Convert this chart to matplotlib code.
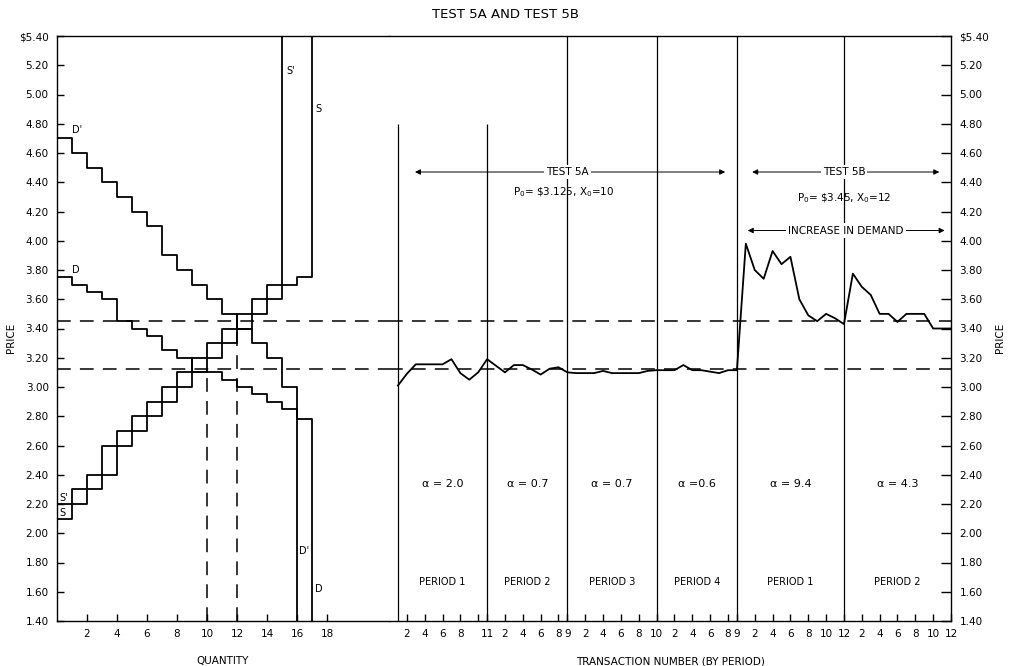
import numpy as np
import matplotlib
matplotlib.use('Agg')
import matplotlib.pyplot as plt

plt.rcParams['font.family'] = ['DejaVu Sans']

# ---- data ----
price_ticks = [1.40 + 0.2 * i for i in range(21)]
quantity_ticks = [2, 4, 6, 8, 10, 12, 14, 16, 18]

# step curves, one price per unit of quantity (q to q+1)
demand_d = [3.75, 3.70, 3.65, 3.60, 3.45, 3.40, 3.35, 3.25, 3.20, 3.10,
            3.10, 3.05, 3.00, 2.95, 2.90, 2.85, 2.78]
demand_d2 = [4.70, 4.60, 4.50, 4.40, 4.30, 4.20, 4.10, 3.90, 3.80, 3.70,
             3.60, 3.50, 3.40, 3.30, 3.20, 3.00]
supply_s = [2.10, 2.20, 2.30, 2.40, 2.60, 2.70, 2.80, 2.90, 3.00, 3.10,
            3.20, 3.30, 3.40, 3.60, 3.70, 3.70, 3.75]
supply_s2 = [2.20, 2.30, 2.40, 2.60, 2.70, 2.80, 2.90, 3.00, 3.10, 3.20,
             3.30, 3.40, 3.50, 3.50, 3.60]

p0_a, x0_a = 3.125, 10
p0_b, x0_b = 3.45, 12

period_sizes = [11, 9, 10, 9, 12, 12]
period_names = ['PERIOD 1', 'PERIOD 2', 'PERIOD 3', 'PERIOD 4', 'PERIOD 1', 'PERIOD 2']
alpha_labels = ['α = 2.0', 'α = 0.7', 'α = 0.7', 'α =0.6', 'α = 9.4', 'α = 4.3']
period_ticks = [[2, 4, 6, 8, 10, 11], [2, 4, 6, 8, 9], [2, 4, 6, 8, 10],
                [2, 4, 6, 8, 9], [2, 4, 6, 8, 10, 12], [2, 4, 6, 8, 10, 12]]
period_tick_labels = [['2', '4', '6', '8', '', '11'], ['2', '4', '6', '8', '9'],
                      ['2', '4', '6', '8', '10'], ['2', '4', '6', '8', '9'],
                      ['2', '4', '6', '8', '10', '12'], ['2', '4', '6', '8', '10', '12']]

# contract prices, transaction by transaction
prices_5a = [3.01, 3.09, 3.155, 3.155, 3.155, 3.155, 3.19, 3.095, 3.05, 3.10, 3.19,
             3.145, 3.10, 3.15, 3.15, 3.12, 3.085, 3.125, 3.135, 3.10,
             3.095, 3.095, 3.095, 3.11, 3.095, 3.095, 3.095, 3.095, 3.11, 3.115,
             3.115, 3.115, 3.15, 3.115, 3.115, 3.105, 3.095, 3.115, 3.115]
prices_5b = [3.98, 3.80, 3.74, 3.93, 3.84, 3.89, 3.60, 3.49, 3.45, 3.50, 3.47, 3.43,
             3.775, 3.685, 3.63, 3.50, 3.50, 3.445, 3.50, 3.50, 3.50, 3.40, 3.40, 3.40]

ymin, ymax = 1.40, 5.40
lw = 1.3
dash = (9, 6)

fig = plt.figure(figsize=(10.1, 6.66), dpi=100)
ax1 = fig.add_axes([57 / 1010, 1 - 621 / 666, 332 / 1010, 585 / 666])
ax2 = fig.add_axes([389 / 1010, 1 - 621 / 666, 562 / 1010, 585 / 666])

for ax in (ax1, ax2):
    ax.set_ylim(ymin, ymax)
    ax.axhline(p0_b, color='black', lw=1.1, dashes=dash)
    ax.axhline(p0_a, color='black', lw=1.1, dashes=dash)
    for sp in ax.spines.values():
        sp.set_linewidth(1.0)

# ---- left panel: supply and demand ----
ax1.set_xlim(0, 332 / 15)
ax1.spines['right'].set_visible(False)
ax1.step(np.arange(len(demand_d) + 1), demand_d + [ymin], where='post', color='black', lw=lw)
ax1.step(np.arange(len(demand_d2) + 1), demand_d2 + [ymin], where='post', color='black', lw=lw)
ax1.step(np.arange(len(supply_s) + 1), supply_s + [ymax], where='post', color='black', lw=lw)
ax1.step(np.arange(len(supply_s2) + 1), supply_s2 + [ymax], where='post', color='black', lw=lw)
ax1.plot([x0_a, x0_a], [ymin, p0_a], color='black', lw=1.1, dashes=dash)
ax1.plot([x0_b, x0_b], [ymin, p0_b], color='black', lw=1.1, dashes=dash)

ax1.text(1.0, 4.74, "D'", fontsize=7)
ax1.text(1.0, 3.78, "D", fontsize=7)
ax1.text(15.3, 5.14, "S'", fontsize=7)
ax1.text(17.2, 4.88, "S", fontsize=7)
ax1.text(0.15, 2.22, "S'", fontsize=7)
ax1.text(0.15, 2.12, "S", fontsize=7)
ax1.text(16.15, 1.86, "D'", fontsize=7)
ax1.text(17.2, 1.60, "D", fontsize=7)

ax1.set_yticks(price_ticks)
ax1.set_yticklabels(['$%.2f' % p if i == len(price_ticks) - 1 else '%.2f' % p
                     for i, p in enumerate(price_ticks)])
ax1.set_xticks(quantity_ticks)
ax1.tick_params(direction='in', length=5, width=1, labelsize=7.5, pad=6)
ax1.set_xlabel('QUANTITY', fontsize=7.5, labelpad=12)

# ---- right panel: contract prices by transaction ----
n_total = sum(period_sizes)
offsets = np.concatenate([[0], np.cumsum(period_sizes)])
ax2.set_xlim(0, n_total)
ax2.spines['left'].set_visible(False)

g = np.arange(1, n_total + 1)
prices = prices_5a + prices_5b
ax2.plot(g, prices, color='black', lw=1.3)

# period separators
ax2.vlines([1, offsets[1]], ymin, 4.80, color='black', lw=0.9)
ax2.vlines(offsets[2:-1], ymin, ymax, color='black', lw=0.9)

tick_pos, tick_lab = [], []
for k in range(len(period_sizes)):
    for t, lab in zip(period_ticks[k], period_tick_labels[k]):
        tick_pos.append(offsets[k] + t)
        tick_lab.append(lab)
    left = 1 if k == 0 else offsets[k]
    mid = (left + offsets[k + 1]) / 2
    ax2.text(mid, 2.34, alpha_labels[k], ha='center', va='center', fontsize=8)
    ax2.text(mid, 1.67, period_names[k], ha='center', va='center', fontsize=7)

ax2.set_xticks(tick_pos)
ax2.set_xticklabels(tick_lab)
ax2.yaxis.tick_right()
ax2.set_yticks(price_ticks)
ax2.set_yticklabels(['$%.2f' % p if i == len(price_ticks) - 1 else '%.2f' % p
                     for i, p in enumerate(price_ticks)])
ax2.tick_params(axis='y', direction='in', length=7, width=1, labelsize=7.5, pad=6)
ax2.tick_params(axis='x', direction='in', length=5, width=1, labelsize=7.5, pad=6)
ax2.set_xlabel('TRANSACTION NUMBER (BY PERIOD)', fontsize=7.5, labelpad=12)

arrow = dict(arrowstyle='<|-|>', color='black', lw=0.7, mutation_scale=8)
box = dict(facecolor='white', edgecolor='none', pad=1.5)
ax2.annotate('', xy=(2.6, 4.47), xytext=(38.0, 4.47), arrowprops=arrow)
ax2.text(20.0, 4.47, 'TEST 5A', ha='center', va='center', fontsize=7.5, bbox=box)
ax2.text(19.6, 4.33, 'P$_0$= \\$3.125, X$_0$=10', ha='center', va='center', fontsize=7.5)
ax2.annotate('', xy=(40.4, 4.47), xytext=(62.0, 4.47), arrowprops=arrow)
ax2.text(51.0, 4.47, 'TEST 5B', ha='center', va='center', fontsize=7.5, bbox=box)
ax2.text(51.0, 4.29, 'P$_0$= \\$3.45, X$_0$=12', ha='center', va='center', fontsize=7.5)
ax2.annotate('', xy=(39.9, 4.07), xytext=(62.6, 4.07), arrowprops=arrow)
ax2.text(51.2, 4.07, 'INCREASE IN DEMAND', ha='center', va='center', fontsize=7.5, bbox=box)

fig.text(505 / 1010, 1 - 15 / 666, 'TEST 5A AND TEST 5B', ha='center', va='center', fontsize=9.5)
fig.text(11 / 1010, 1 - 338 / 666, 'PRICE', rotation=90, ha='center', va='center', fontsize=7.5)
fig.text(1000 / 1010, 1 - 338 / 666, 'PRICE', rotation=90, ha='center', va='center', fontsize=7.5)

fig.savefig('out.png', dpi=100)
